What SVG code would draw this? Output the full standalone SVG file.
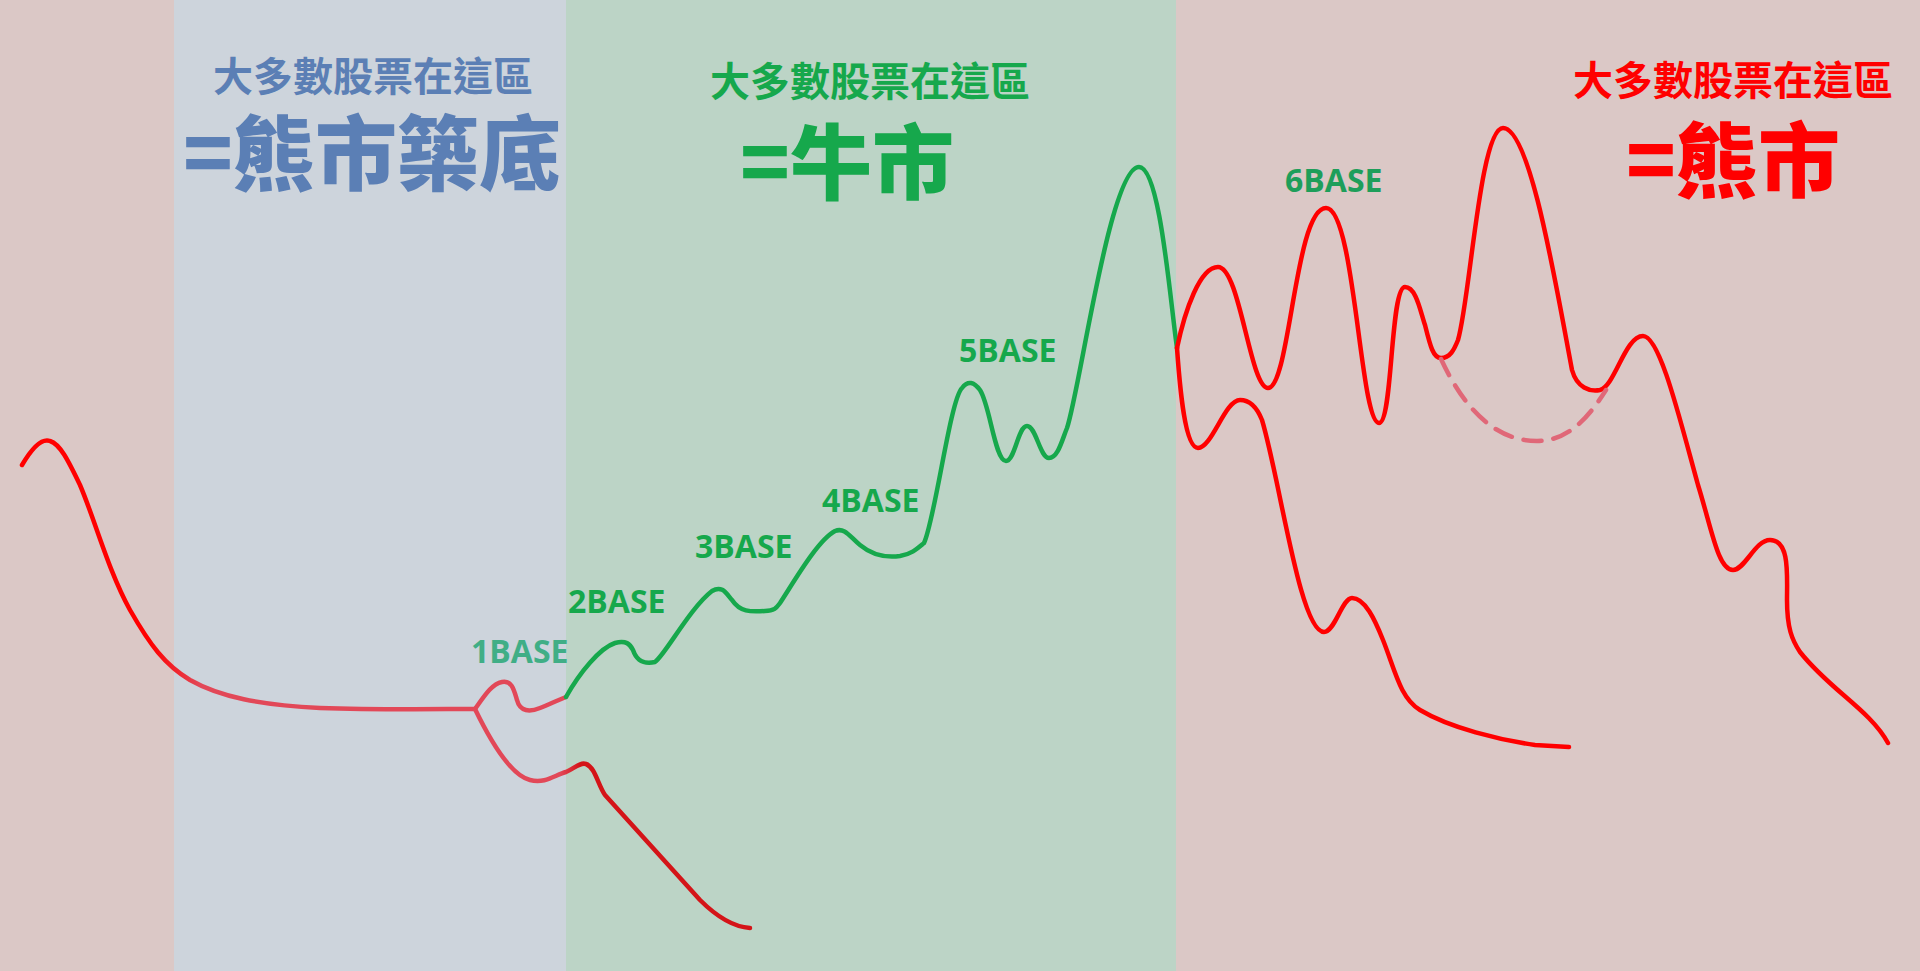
<svg xmlns="http://www.w3.org/2000/svg" width="1920" height="971" viewBox="0 0 1920 971">
<style>
.cjk{font-family:"Noto Sans CJK TC","Noto Sans CJK SC",sans-serif;text-anchor:middle}
.t1{font-size:40px;font-weight:700}
.t2{font-size:82px;font-weight:900}
.base{font-family:"Open Sans","Liberation Sans",sans-serif;font-weight:700;font-size:32px}
.ln{fill:none;stroke-width:4.5;stroke-linecap:round;stroke-linejoin:round}
</style>
<defs>
<linearGradient id="gLeft" gradientUnits="userSpaceOnUse" x1="150" y1="0" x2="200" y2="0">
<stop offset="0" stop-color="#ff0000"/><stop offset="1" stop-color="#e24858"/>
</linearGradient>
<linearGradient id="gLow" gradientUnits="userSpaceOnUse" x1="560" y1="0" x2="580" y2="0">
<stop offset="0" stop-color="#e24858"/><stop offset="1" stop-color="#d41418"/>
</linearGradient>
</defs>
<g id="background">
<rect x="0" y="0" width="174" height="971" fill="#dbc8c6"/>
<rect x="174" y="0" width="392" height="971" fill="#cdd4dc"/>
<rect x="566" y="0" width="610" height="971" fill="#bcd4c6"/>
<rect x="1176" y="0" width="744" height="971" fill="#dbc8c6"/>
</g>
<g id="title-bottom">
<text class="cjk t1" x="373" y="91" fill="#5b7fb5">大多數股票在這區</text>
<text class="cjk t2" x="372" y="184" fill="#5b7fb5">=熊市築底</text>
</g>
<g id="title-bull">
<text class="cjk t1" x="870" y="96" fill="#16a84c">大多數股票在這區</text>
<text class="cjk t2" x="847" y="193" fill="#16a84c">=牛市</text>
</g>
<g id="title-bear">
<text class="cjk t1" x="1733" y="95" fill="#ff0000">大多數股票在這區</text>
<text class="cjk t2" x="1733" y="191" fill="#ff0000">=熊市</text>
</g>
<g id="labels">
<text class="base" x="471" y="663" fill="#40ae86">1BASE</text>
<text class="base" x="568" y="613" fill="#16a84c">2BASE</text>
<text class="base" x="695" y="558" fill="#16a84c">3BASE</text>
<text class="base" x="822" y="512" fill="#16a84c">4BASE</text>
<text class="base" x="959" y="362" fill="#16a84c">5BASE</text>
<text class="base" x="1285" y="192" fill="#1e9e5a">6BASE</text>
</g>
<g id="connectors">
<path class="ln" stroke="url(#gLeft)" d="M22,465 C32,448 42,438 50,441 C60,444 68,460 80,485 C95,520 108,570 130,610 C150,645 165,665 190,680 C220,697 260,705 320,708 C380,710 440,709 475,709"/>
<path class="ln" stroke="#e24858" d="M475,709 C485,695 492,684 502,682 C512,680 514,690 517,700 C520,712 530,712 540,708 C550,704 558,700 566,697"/>
<path class="ln" stroke="url(#gLow)" d="M475,709 C490,740 510,775 530,780 C545,784 555,775 566,772 C575,768 580,762 586,764 C595,767 598,785 605,795 L700,900 C718,918 735,927 750,928"/>
<path class="ln" stroke="#16a84c" d="M566,697 C580,672 600,648 615,643 C626,640 630,644 633,650 C637,662 645,664 655,662 C665,655 690,608 712,591 C722,585 726,593 732,600 C740,612 750,612 765,611 C775,611 777,607 780,603 C795,580 818,540 835,531 C845,527 850,537 860,545 C872,555 885,558 900,556 C912,554 918,548 924,543 C935,520 950,400 962,388 C968,380 974,382 980,390 C990,405 995,461 1006,461 C1015,461 1018,426 1027,426 C1036,426 1040,458 1049,458 C1058,458 1062,440 1067,428 C1080,390 1110,167 1139,167 C1160,167 1170,300 1177,348"/>
<path class="ln" stroke="#ff0000" d="M1177,348 C1185,310 1200,267 1218,267 C1240,267 1250,388 1268,388 C1290,388 1295,208 1326,208 C1355,208 1360,423 1379,423 C1393,423 1390,287 1405,287 C1416,287 1420,310 1425,325 C1430,345 1433,358 1441,358 C1450,358 1454,350 1458,340 C1470,300 1480,128 1503,128 C1530,128 1555,280 1572,370 C1577,388 1590,392 1600,390 C1615,386 1625,336 1643,336 C1660,336 1680,420 1698,485 C1712,530 1718,570 1733,570 C1745,570 1755,540 1770,540 C1790,540 1787,575 1787,600 C1787,628 1792,640 1800,652 C1830,690 1870,710 1888,743"/>
<path class="ln" stroke="#ff0000" d="M1177,348 C1180,390 1185,448 1198,448 C1212,448 1225,400 1240,400 C1252,400 1258,410 1262,420 C1280,480 1300,632 1324,632 C1335,632 1342,598 1352,598 C1365,598 1375,620 1383,640 C1395,670 1400,698 1420,710 C1450,728 1500,740 1535,745 L1569,747"/>
<path class="ln" stroke="#e06878" stroke-dasharray="18 12" stroke-linecap="butt" d="M1441,359 C1460,400 1490,441 1537,441 C1570,441 1590,415 1606,390"/>
</g>
</svg>
